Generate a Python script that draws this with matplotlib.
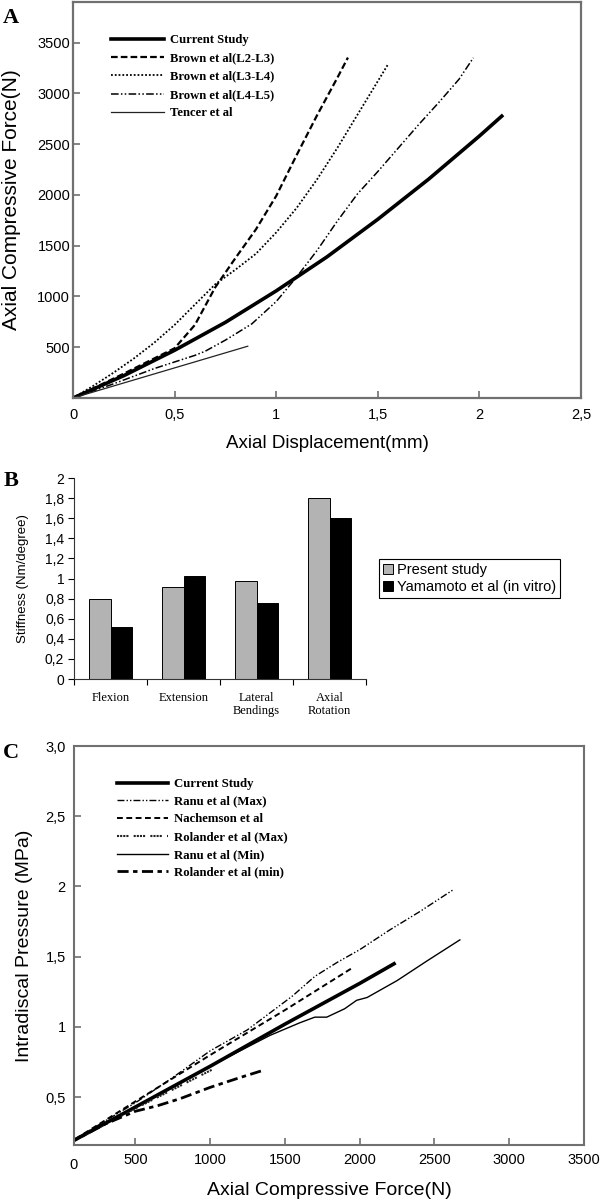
import matplotlib
matplotlib.use("Agg")
import matplotlib.pyplot as plt
import numpy as np

SERIF = ['Liberation Serif', 'DejaVu Serif']
SANS = ['Liberation Sans', 'DejaVu Sans']
plt.rcParams['font.family'] = SANS

# ---------------- panel A: force vs displacement
a_cur_x = [0, 0.25, 0.5, 0.75, 1.0, 1.25, 1.5, 1.75, 2.0, 2.11]
a_cur_y = [0, 220, 470, 745, 1055, 1390, 1760, 2155, 2580, 2776]
a_l23_x = [0, 0.1, 0.25, 0.4, 0.5, 0.6, 0.7, 0.8, 0.9, 1.0, 1.1, 1.2, 1.3, 1.353]
a_l23_y = [0, 95, 240, 390, 490, 720, 1090, 1380, 1660, 1990, 2390, 2780, 3150, 3353]
a_l34_x = [0, 0.1, 0.2, 0.3, 0.4, 0.5, 0.6, 0.7, 0.8, 0.9, 1.0, 1.1, 1.2, 1.3, 1.4, 1.5, 1.55]
a_l34_y = [0, 120, 250, 390, 545, 720, 920, 1120, 1265, 1420, 1630, 1870, 2150, 2460, 2790, 3120, 3285]
a_l45_x = [0, 0.2, 0.4, 0.6, 0.65, 0.75, 0.88, 1.0, 1.1, 1.2, 1.3, 1.4, 1.5, 1.6, 1.7, 1.8, 1.9, 1.97]
a_l45_y = [0, 140, 290, 420, 460, 570, 730, 950, 1190, 1450, 1740, 2010, 2230, 2460, 2690, 2910, 3140, 3350]
a_ten_x = [0, 0.86]
a_ten_y = [0, 510]
a_xticks = [0, 0.5, 1, 1.5, 2, 2.5]
a_xticklabels = ['0', '0,5', '1', '1,5', '2', '2,5']
a_yticks = [500, 1000, 1500, 2000, 2500, 3000, 3500]

# ---------------- panel B: stiffness bars
b_cats = ['Flexion', 'Extension', 'Lateral\nBendings', 'Axial\nRotation']
b_present = [0.80, 0.92, 0.98, 1.80]
b_yamamoto = [0.52, 1.02, 0.76, 1.60]
b_yticks = [0, 0.2, 0.4, 0.6, 0.8, 1.0, 1.2, 1.4, 1.6, 1.8, 2.0]
b_yticklabels = ['0', '0,2', '0,4', '0,6', '0,8', '1', '1,2', '1,4', '1,6', '1,8', '2']

# ---------------- panel C: pressure vs force
c_cur_x = [50, 500, 1000, 1500, 2000, 2230]
c_cur_y = [0.17, 0.43, 0.72, 1.02, 1.31, 1.45]
c_rmax_x = [50, 250, 500, 750, 1000, 1100, 1250, 1400, 1550, 1700, 1850, 2000, 2200, 2400, 2630]
c_rmax_y = [0.17, 0.30, 0.46, 0.64, 0.83, 0.89, 0.98, 1.10, 1.22, 1.36, 1.46, 1.55, 1.69, 1.82, 1.98]
c_nach_x = [50, 500, 1000, 1500, 1950]
c_nach_y = [0.17, 0.47, 0.80, 1.12, 1.42]
c_rolmax_x = [50, 500, 1020]
c_rolmax_y = [0.17, 0.42, 0.70]
c_rmin_x = [50, 500, 1000, 1400, 1600, 1700, 1780, 1900, 1980, 2050, 2250, 2450, 2670]
c_rmin_y = [0.17, 0.43, 0.72, 0.94, 1.03, 1.07, 1.07, 1.13, 1.19, 1.21, 1.33, 1.47, 1.62]
c_rolmin_x = [50, 300, 500, 650, 800, 1000, 1200, 1350]
c_rolmin_y = [0.17, 0.31, 0.40, 0.44, 0.49, 0.57, 0.64, 0.69]
c_xticks = [500, 1000, 1500, 2000, 2500, 3000, 3500]
c_yticks = [0.5, 1.0, 1.5, 2.0, 2.5, 3.0]
c_yticklabels = ['0,5', '1', '1,5', '2', '2,5', '3,0']

W, H = 600, 1202
fig = plt.figure(figsize=(W / 100, H / 100), dpi=100)


def box(l, t, r, b):
    return [l / W, 1 - b / H, (r - l) / W, (b - t) / H]


spine_col = '#707070'

# ======== A
ax = fig.add_axes(box(73, 2, 581, 398))
ax.plot(a_cur_x, a_cur_y, color='black', lw=2.6, label='Current Study')
ax.plot(a_l23_x, a_l23_y, color='black', lw=1.6, dashes=(3, 1.4), label='Brown et al(L2-L3)')
ax.plot(a_l34_x, a_l34_y, color='black', lw=1.3, dashes=(1, 1.1), label='Brown et al(L3-L4)')
ax.plot(a_l45_x, a_l45_y, color='black', lw=1.1, dashes=(5, 1.5, 1, 1.5, 1, 1.5), label='Brown et al(L4-L5)')
ax.plot(a_ten_x, a_ten_y, color='#222222', lw=0.9, label='Tencer et al')
ax.set_xlim(0, 2.5)
ax.set_ylim(0, 3900)
ax.set_xticks(a_xticks)
ax.set_xticklabels(a_xticklabels)
ax.set_yticks(a_yticks)
for s in ax.spines.values():
    s.set_color(spine_col)
    s.set_linewidth(1.6)
ax.tick_params(direction='in', length=5, width=1.2, color=spine_col, labelsize=10.5)
ax.tick_params(axis='x', pad=7)
ax.tick_params(axis='y', pad=2)
ax.set_xlabel('Axial Displacement(mm)', fontsize=13.5)
ax.xaxis.set_label_coords(0.5, -0.093)
ax.set_ylabel('Axial Compressive Force(N)', fontsize=15)
ax.yaxis.set_label_coords(-0.102, 0.5)
leg = ax.legend(loc='upper left', bbox_to_anchor=((111 - 73) / 508, (398 - 34) / 396),
                frameon=False, borderpad=0, borderaxespad=0, handlelength=4.2,
                handletextpad=0.45, labelspacing=0.5,
                prop={'family': SERIF, 'weight': 'bold', 'size': 9.1})

# ======== B
bx = fig.add_axes(box(74, 478, 366, 679))
pos = np.arange(len(b_cats))
bw = 0.29
bx.bar(pos - bw / 2, b_present, bw, color='#b3b3b3', edgecolor='black', lw=0.7, label='Present study')
bx.bar(pos + bw / 2, b_yamamoto, bw, color='black', edgecolor='black', lw=0.7, label='Yamamoto et al (in vitro)')
bx.set_xlim(-0.5, 3.5)
bx.set_ylim(0, 2)
bx.set_yticks(b_yticks)
bx.set_yticklabels(b_yticklabels)
bx.set_xticks(pos)
bx.set_xticklabels(b_cats, family=SERIF, fontsize=9)
bx.set_xticks(np.arange(-0.5, 3.6, 1), minor=True)
bx.tick_params(axis='x', which='major', length=0, pad=9)
bx.tick_params(axis='x', which='minor', direction='out', length=4, width=0.8)
bx.tick_params(axis='y', direction='out', length=4, width=0.8, labelsize=10, pad=3)
for k in ['top', 'right']:
    bx.spines[k].set_visible(False)
for k in ['left', 'bottom']:
    bx.spines[k].set_linewidth(0.8)
    bx.spines[k].set_color('#333333')
bx.set_ylabel('Stiffness (Nm/degree)', fontsize=9.5)
bx.yaxis.set_label_coords(-0.155, 0.5)
bleg = bx.legend(loc='center left', bbox_to_anchor=(379 / W, 1 - 578.5 / H),
                 bbox_transform=fig.transFigure, fancybox=False, edgecolor='black',
                 framealpha=1, borderpad=0.25, handlelength=0.7, handleheight=0.7,
                 handletextpad=0.3, labelspacing=0.2, fontsize=10.5, borderaxespad=0)
bleg.get_frame().set_linewidth(0.8)

# ======== C
cx = fig.add_axes(box(74, 746, 584, 1145))
cx.plot(c_cur_x, c_cur_y, color='black', lw=2.6, label='Current Study')
cx.plot(c_rmax_x, c_rmax_y, color='black', lw=1.0, dashes=(5, 1.5, 1, 1.5, 1, 1.5), label='Ranu et al (Max)')
cx.plot(c_nach_x, c_nach_y, color='black', lw=1.4, dashes=(3, 1.8), label='Nachemson et al')
cx.plot(c_rolmax_x, c_rolmax_y, color='#222222', lw=1.5, dashes=(1, 0.5, 1, 0.5, 1, 0.5, 1, 2.5), label='Rolander et al (Max)')
cx.plot(c_rmin_x, c_rmin_y, color='black', lw=1.0, label='Ranu et al (Min)')
cx.plot(c_rolmin_x, c_rolmin_y, color='black', lw=2.0, dashes=(4, 1.6, 1.6, 1.6), label='Rolander et al (min)')
cx.set_xlim(90, 3500)
cx.set_ylim(0.16, 3.0)
cx.set_xticks(c_xticks)
cx.set_yticks(c_yticks)
cx.set_yticklabels(c_yticklabels)
for s in cx.spines.values():
    s.set_color(spine_col)
    s.set_linewidth(1.5)
cx.tick_params(direction='in', length=5, width=1.2, color=spine_col, labelsize=10.5, pad=6)
cx.text(0, -0.032, '0', transform=cx.transAxes, ha='center', va='top', fontsize=10.5)
cx.set_xlabel('Axial Compressive Force(N)', fontsize=14)
cx.xaxis.set_label_coords(0.5, -0.092)
cx.set_ylabel('Intradiscal Pressure (MPa)', fontsize=14)
cx.yaxis.set_label_coords(-0.080, 0.5)
cx.legend(loc='upper left', bbox_to_anchor=((117 - 74) / 510, (1145 - 778) / 399),
          frameon=False, borderpad=0, borderaxespad=0, handlelength=4.0,
          handletextpad=0.45, labelspacing=0.45,
          prop={'family': SERIF, 'weight': 'bold', 'size': 9.2})

# panel letters
for letter, px, py in [('A', 3, 23), ('B', 4, 486), ('C', 3, 758)]:
    fig.text(px / W, 1 - py / H, letter, family=SERIF, weight='bold', fontsize=16,
             va='baseline', ha='left')

fig.savefig('out.png', dpi=100)
